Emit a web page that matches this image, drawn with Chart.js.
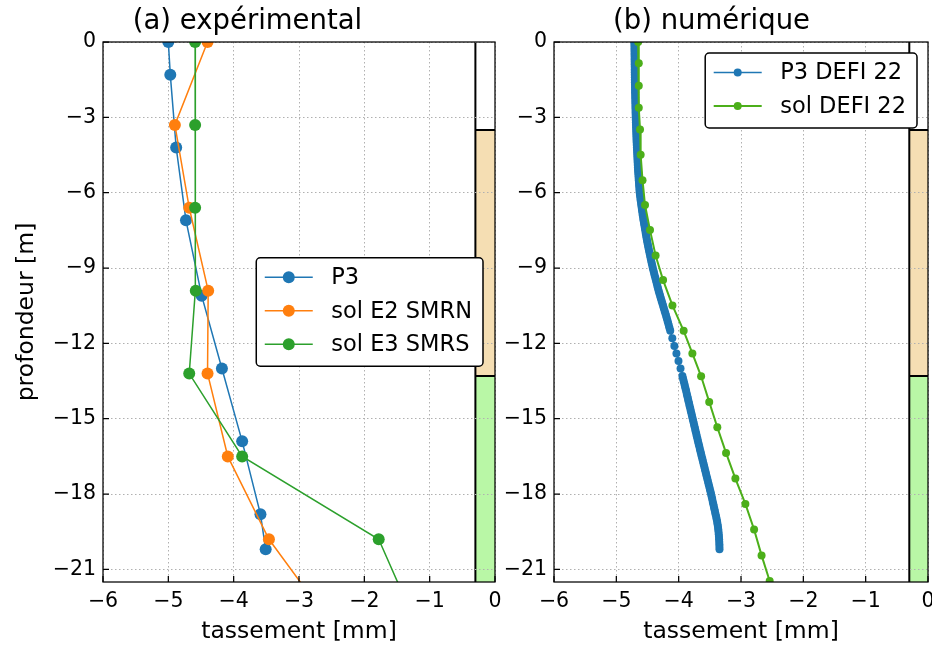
<!DOCTYPE html>
<html><head><meta charset="utf-8">
<script src="https://cdn.jsdelivr.net/npm/chart.js@4.4.0/dist/chart.umd.min.js"></script>
<style>
html,body{margin:0;padding:0;background:#fff;overflow:hidden;width:932px;height:646px;}
#wrap{position:relative;width:932px;height:646px;overflow:hidden;background:#fff;}
canvas{position:absolute;top:0;}
</style></head><body>
<div id="wrap">
<canvas id="cA" width="598" height="646" style="left:0px"></canvas>
<canvas id="cB" width="492" height="646" style="left:495px"></canvas>
</div>
<script>
// ---------- panel (a) expérimental ----------
const depthP3 = [0, -1.3, -4.2, -7.1, -10.1, -13.0, -15.9, -18.8, -20.2];
const tassP3  = [-5.0, -4.97, -4.88, -4.73, -4.49, -4.18, -3.87, -3.59, -3.51];
const depthE2 = [0, -3.3, -6.6, -9.9, -13.2, -16.5, -19.8, -23.1];
const tassE2  = [-4.40, -4.90, -4.68, -4.39, -4.40, -4.09, -3.46, -2.53];
const depthE3 = [0, -3.3, -6.6, -9.9, -13.2, -16.5, -19.8, -23.1];
const tassE3  = [-4.59, -4.59, -4.59, -4.58, -4.68, -3.87, -1.78, -1.22];

// ---------- panel (b) numérique ----------
const depthP3num = [
  0, -0.1, -0.2, -0.3, -0.4, -0.5, -0.6, -0.7, -0.8, -0.9,
  -1.0, -1.1, -1.2, -1.3, -1.4, -1.5, -1.6, -1.7, -1.8, -1.9,
  -2.0, -2.1, -2.2, -2.3, -2.4, -2.5, -2.6, -2.7, -2.8, -2.9,
  -3.0, -3.1, -3.2, -3.3, -3.4, -3.5, -3.6, -3.7, -3.8, -3.9,
  -4.0, -4.1, -4.2, -4.3, -4.4, -4.5, -4.6, -4.7, -4.8, -4.9,
  -5.0, -5.1, -5.2, -5.3, -5.4, -5.5, -5.6, -5.7, -5.8, -5.9,
  -6.0, -6.1, -6.2, -6.3, -6.4, -6.5, -6.6, -6.7, -6.8, -6.9,
  -7.0, -7.1, -7.2, -7.3, -7.4, -7.5, -7.6, -7.7, -7.8, -7.9,
  -8.0, -8.1, -8.2, -8.3, -8.4, -8.5, -8.6, -8.7, -8.8, -8.9,
  -9.0, -9.1, -9.2, -9.3, -9.4, -9.5, -9.6, -9.7, -9.8, -9.9,
  -10.0, -10.1, -10.2, -10.3, -10.4, -10.5, -10.6, -10.7, -10.8, -10.9,
  -11.0, -11.1, -11.2, -11.3, -11.4, -11.5,
  -11.8, -12.1, -12.4, -12.7, -13.0, -13.3,
  -13.4, -13.5, -13.6, -13.7, -13.8, -13.9,
  -14.0, -14.1, -14.2, -14.3, -14.4, -14.5, -14.6, -14.7, -14.8, -14.9,
  -15.0, -15.1, -15.2, -15.3, -15.4, -15.5, -15.6, -15.7, -15.8, -15.9,
  -16.0, -16.1, -16.2, -16.3, -16.4, -16.5, -16.6, -16.7, -16.8, -16.9,
  -17.0, -17.1, -17.2, -17.3, -17.4, -17.5, -17.6, -17.7, -17.8, -17.9,
  -18.0, -18.1, -18.2, -18.3, -18.4, -18.5, -18.6, -18.7, -18.8, -18.9,
  -19.0, -19.1, -19.2, -19.3, -19.4, -19.5, -19.6, -19.7, -19.8, -19.9,
  -20.0, -20.1, -20.2];
const tassP3num = [
  -4.710, -4.710, -4.709, -4.709, -4.708, -4.708, -4.707, -4.707, -4.706, -4.706,
  -4.705, -4.705, -4.704, -4.704, -4.703, -4.703, -4.702, -4.701, -4.700, -4.700,
  -4.699, -4.698, -4.697, -4.696, -4.695, -4.694, -4.693, -4.692, -4.691, -4.690,
  -4.689, -4.688, -4.686, -4.685, -4.683, -4.682, -4.680, -4.679, -4.677, -4.676,
  -4.674, -4.672, -4.670, -4.668, -4.666, -4.664, -4.662, -4.660, -4.658, -4.656,
  -4.654, -4.652, -4.649, -4.646, -4.643, -4.640, -4.637, -4.634, -4.631, -4.628,
  -4.625, -4.620, -4.615, -4.610, -4.604, -4.599, -4.593, -4.588, -4.582, -4.576,
  -4.570, -4.564, -4.557, -4.550, -4.543, -4.536, -4.529, -4.522, -4.515, -4.508,
  -4.500, -4.492, -4.484, -4.476, -4.467, -4.459, -4.450, -4.442, -4.433, -4.424,
  -4.415, -4.405, -4.395, -4.385, -4.374, -4.364, -4.353, -4.343, -4.332, -4.321,
  -4.310, -4.298, -4.286, -4.274, -4.262, -4.250, -4.238, -4.226, -4.214, -4.202,
  -4.190, -4.179, -4.168, -4.157, -4.146, -4.135,
  -4.102, -4.069, -4.036, -4.003, -3.970, -3.940,
  -3.930, -3.920, -3.910, -3.900, -3.890, -3.880,
  -3.870, -3.861, -3.851, -3.842, -3.832, -3.823, -3.813, -3.804, -3.794, -3.785,
  -3.775, -3.766, -3.756, -3.747, -3.737, -3.728, -3.718, -3.709, -3.699, -3.690,
  -3.680, -3.670, -3.660, -3.650, -3.640, -3.630, -3.620, -3.610, -3.600, -3.590,
  -3.580, -3.570, -3.560, -3.550, -3.540, -3.530, -3.520, -3.510, -3.500, -3.490,
  -3.480, -3.471, -3.462, -3.453, -3.444, -3.435, -3.426, -3.417, -3.408, -3.399,
  -3.390, -3.383, -3.376, -3.370, -3.365, -3.361, -3.357, -3.354, -3.351, -3.349,
  -3.347, -3.346, -3.345];
const depthSolNum = [0, -0.85, -1.74, -2.62, -3.48, -4.49, -5.50, -6.49, -7.49, -8.50, -9.48, -10.49,
  -11.50, -12.40, -13.31, -14.33, -15.34, -16.36, -17.38, -18.39, -19.41, -20.44, -21.46];
const tassSolNum = [-4.65, -4.64, -4.64, -4.64, -4.62, -4.61, -4.58, -4.54, -4.46, -4.37, -4.25, -4.10,
  -3.92, -3.78, -3.64, -3.51, -3.38, -3.24, -3.09, -2.93, -2.79, -2.67, -2.54];

// ---------- axes / ticks ----------
const xTicks = [-6, -5, -4, -3, -2, -1, 0];
const yTicks = [0, -3, -6, -9, -12, -15, -18, -21];
const xRange = [-6, 0];
const yRange = [-21.5, 0];

// ---------- soil layers (strip on the right) ----------
const stripLeft = -0.3;
const layerTops    = [0, -3.5, -13.3];
const layerBottoms = [-3.5, -13.3, -21.5];
const layerColors  = ['#ffffff', '#f5deb3', '#b9f7a6'];

const FONT = "'DejaVu Sans', 'Liberation Sans', sans-serif";
Chart.defaults.font.family = FONT;
Chart.defaults.color = '#000';

const fmt = v => (v < 0 ? '\u2212' + Math.abs(v) : String(v));
const pts = (xs, ys) => xs.map((x, i) => ({x: x, y: ys[i]}));

const soilPlugin = {
  id: 'soil',
  beforeDraw(chart) {
    const ctx = chart.ctx, xs = chart.scales.x, ys = chart.scales.y;
    const x0 = xs.getPixelForValue(stripLeft), x1 = xs.getPixelForValue(0);
    ctx.save();
    for (let i = 0; i < layerTops.length; i++) {
      const y0 = ys.getPixelForValue(layerTops[i]), y1 = ys.getPixelForValue(layerBottoms[i]);
      ctx.fillStyle = layerColors[i];
      ctx.fillRect(x0, y0, x1 - x0, y1 - y0);
    }
    ctx.strokeStyle = '#000'; ctx.lineWidth = 2;
    ctx.beginPath();
    ctx.moveTo(x0, ys.getPixelForValue(yRange[1])); ctx.lineTo(x0, ys.getPixelForValue(yRange[0]));
    for (let i = 1; i < layerTops.length; i++) {
      const y = ys.getPixelForValue(layerTops[i]);
      ctx.moveTo(x0, y); ctx.lineTo(x1, y);
    }
    ctx.stroke();
    ctx.restore();
  }
};

const framePlugin = {
  id: 'frame',
  afterDatasetsDraw(chart) {
    const ctx = chart.ctx, a = chart.chartArea, xs = chart.scales.x, ys = chart.scales.y;
    ctx.save();
    ctx.strokeStyle = '#000'; ctx.lineWidth = 1.25;
    ctx.strokeRect(a.left, a.top, a.right - a.left, a.bottom - a.top);
    ctx.beginPath();
    xTicks.forEach(v => { const x = xs.getPixelForValue(v); ctx.moveTo(x, a.bottom); ctx.lineTo(x, a.bottom - 6); });
    yTicks.forEach(v => { const y = ys.getPixelForValue(v); ctx.moveTo(a.left, y); ctx.lineTo(a.left + 6, y); });
    ctx.stroke();
    ctx.restore();
  }
};

const legendPlugin = {
  id: 'boxLegend',
  afterDraw(chart, args, opts) {
    const ctx = chart.ctx, a = chart.chartArea;
    const items = chart.data.datasets;
    const fs = 22.5, rowH = 33.5;
    ctx.save();
    ctx.font = fs + 'px ' + FONT;
    const tw = Math.max(...items.map(d => ctx.measureText(d.label).width));
    const w = 8.5 + 48 + 18.5 + tw + 11;
    const h = 19.5 + (items.length - 1) * rowH + 22;
    const right = a.right - opts.marginRight;
    const left = right - w;
    let top;
    if (opts.loc === 'upper right') top = a.top + opts.marginTop;
    else top = (a.top + a.bottom) / 2 - h / 2;
    ctx.beginPath();
    ctx.roundRect(left, top, w, h, 4);
    ctx.fillStyle = '#fff'; ctx.fill();
    ctx.lineWidth = 1.5; ctx.strokeStyle = '#000'; ctx.stroke();
    items.forEach((d, i) => {
      const cy = top + 19.5 + i * rowH;
      const lx = left + 8.5;
      ctx.beginPath(); ctx.moveTo(lx, cy); ctx.lineTo(lx + 48, cy);
      ctx.strokeStyle = d.borderColor; ctx.lineWidth = d.borderWidth; ctx.stroke();
      ctx.beginPath(); ctx.arc(lx + 24, cy, d.pointRadius, 0, Math.PI * 2);
      ctx.fillStyle = d.backgroundColor; ctx.fill();
      ctx.fillStyle = '#000'; ctx.textBaseline = 'middle'; ctx.textAlign = 'left';
      ctx.fillText(d.label, lx + 66.5, cy + 1);
    });
    ctx.restore();
  }
};

function makeOptions(title, yWidth, showYTitle, legendOpts) {
  return {
    responsive: false,
    animation: false,
    devicePixelRatio: 1,
    layout: { padding: { left: 0, right: yWidth, top: 0, bottom: 0 } },
    plugins: {
      legend: { display: false },
      tooltip: { enabled: false },
      title: { display: true, text: title, font: { size: 27.5, weight: 'normal' }, color: '#000',
               padding: { top: 5.5, bottom: 3.5 } },
      boxLegend: legendOpts
    },
    scales: {
      x: {
        type: 'linear', min: xRange[0], max: xRange[1],
        afterBuildTicks: s => { s.ticks = xTicks.map(v => ({value: v})); },
        afterFit: s => { s.height = 64; },
        ticks: { callback: v => fmt(v), font: { size: 20.5 }, color: '#000', padding: 7, maxRotation: 0 },
        grid: { color: '#b0b0b0', lineWidth: 1, drawTicks: false },
        border: { display: false, dash: [1.5, 2.5] },
        title: { display: true, text: 'tassement [mm]', font: { size: 23.5 }, color: '#000', padding: { top: 0, bottom: 0 } }
      },
      y: {
        type: 'linear', min: yRange[0], max: yRange[1],
        afterBuildTicks: s => { s.ticks = yTicks.map(v => ({value: v})); },
        afterFit: s => { s.width = yWidth; },
        ticks: { callback: v => fmt(v), font: { size: 20.5 }, color: '#000', padding: 7 },
        grid: { color: '#b0b0b0', lineWidth: 1, drawTicks: false },
        border: { display: false, dash: [1.5, 2.5] },
        title: { display: showYTitle, text: 'profondeur [m]', font: { size: 23.5 }, color: '#000', padding: { top: 13, bottom: 0 } }
      }
    }
  };
}

function ds(label, xs, ys, color, r, lw, order) {
  return { label: label, data: pts(xs, ys), showLine: true, borderColor: color, backgroundColor: color,
           pointBackgroundColor: color, pointBorderWidth: 0, pointRadius: r, borderWidth: lw, pointHoverRadius: r,
           order: order };
}

new Chart(document.getElementById('cA'), {
  type: 'scatter',
  data: { datasets: [
    ds('P3', tassP3, depthP3, '#1f77b4', 6, 1.5, 3),
    ds('sol E2 SMRN', tassE2, depthE2, '#ff7f0e', 6, 1.5, 2),
    ds('sol E3 SMRS', tassE3, depthE3, '#2ca02c', 6, 1.5, 1)
  ]},
  options: makeOptions('(a) expérimental', 103, true, { loc: 'center right', marginRight: 12 }),
  plugins: [soilPlugin, framePlugin, legendPlugin]
});

new Chart(document.getElementById('cB'), {
  type: 'scatter',
  data: { datasets: [
    ds('P3 DEFI 22', tassP3num, depthP3num, '#1f77b4', 4, 1.5, 2),
    ds('sol DEFI 22', tassSolNum, depthSolNum, '#4caf1a', 4, 2, 1)
  ]},
  options: makeOptions('(b) numérique', 59, false, { loc: 'upper right', marginRight: 11, marginTop: 11 }),
  plugins: [soilPlugin, framePlugin, legendPlugin]
});
</script>
</body></html>
